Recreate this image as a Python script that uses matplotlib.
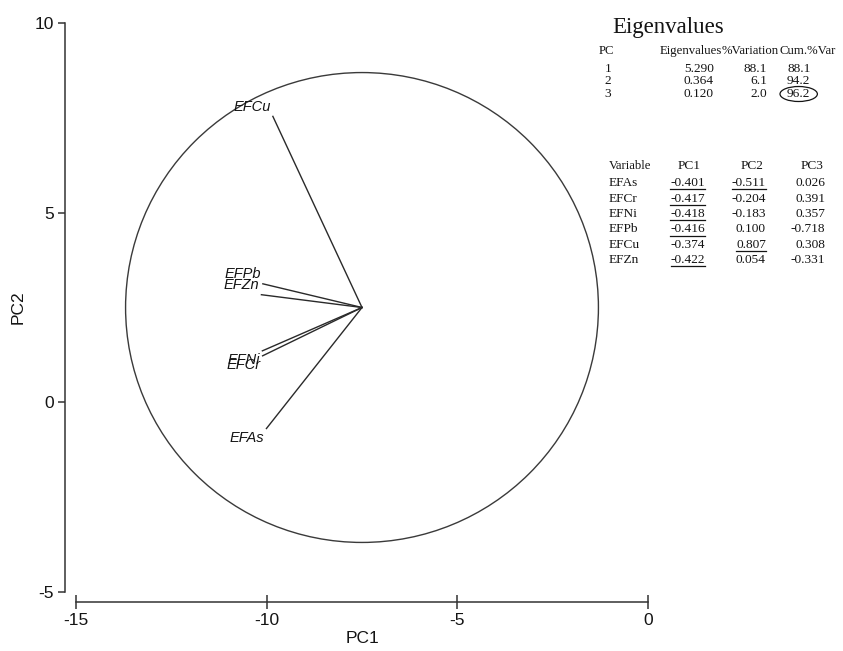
import matplotlib
matplotlib.use('Agg')
import matplotlib.pyplot as plt
from matplotlib.patches import Circle, Ellipse

plt.rcParams['axes.unicode_minus'] = False

# loadings per variable (PC1, PC2, PC3)
variables = ['EFAs', 'EFCr', 'EFNi', 'EFPb', 'EFCu', 'EFZn']
pc1 = [-0.401, -0.417, -0.418, -0.416, -0.374, -0.422]
pc2 = [-0.511, -0.204, -0.183, 0.100, 0.807, 0.054]
pc3 = [0.026, 0.391, 0.357, -0.718, 0.308, -0.331]

# which loadings are underlined in the table
underline_pc1 = ['EFAs', 'EFCr', 'EFNi', 'EFPb', 'EFZn']
underline_pc2 = ['EFAs', 'EFCu']

# eigen analysis
pcs = [1, 2, 3]
eigenvalues = [5.290, 0.364, 0.120]
pct_var = [88.1, 6.1, 2.0]
cum_var = [88.1, 94.2, 96.2]

# biplot origin and scale of loading vectors
origin = (-7.5, 2.5)
scale = 6.25
radius = 6.2

xticks = [-15, -10, -5, 0]
yticks = [-5, 0, 5, 10]

sans = ['Liberation Sans', 'DejaVu Sans']
serif = ['Liberation Serif', 'DejaVu Serif']
ink = '#141414'

fig = plt.figure(figsize=(8.43, 6.51), dpi=100)
fig.patch.set_facecolor('white')

W, H = 843, 651
ax = fig.add_axes([76 / W, 1 - 591.7 / H, (648 - 76) / W, (591.7 - 23.3) / H])
ax.set_xlim(-15, 0)
ax.set_ylim(-5, 10)
ax.patch.set_visible(False)

for s in ['top', 'right']:
    ax.spines[s].set_visible(False)
ax.spines['left'].set_position(('outward', 8))
ax.spines['bottom'].set_position(('outward', 7.6))
ax.spines['left'].set_bounds(-5, 10)
ax.spines['bottom'].set_bounds(-15, 0)
for s in ['left', 'bottom']:
    ax.spines[s].set_color('#333333')
    ax.spines[s].set_linewidth(1.1)

ax.set_xticks(xticks)
ax.set_yticks(yticks)
ax.tick_params(axis='y', direction='out', length=5, width=1.1, color='#333333', pad=3)
ax.tick_params(axis='x', direction='inout', length=10, width=1.1, color='#333333', pad=3)
for lab in ax.get_xticklabels() + ax.get_yticklabels():
    lab.set_family(sans)
    lab.set_fontsize(12.5)
    lab.set_color(ink)

ax.set_xlabel('PC1', family=sans, fontsize=12.5, color=ink, labelpad=2)
ax.set_ylabel('PC2', family=sans, fontsize=12.5, color=ink, labelpad=6)

ax.add_patch(Circle(origin, radius, fill=False, edgecolor='#3a3a3a', linewidth=1.0))

for name, a, b in zip(variables, pc1, pc2):
    ex = origin[0] + a * scale
    ey = origin[1] + b * scale
    ax.plot([origin[0], ex], [origin[1], ey], color='#2a2a2a', linewidth=1.0)
    dy = 7 if b > 0 else -6.5
    ax.annotate(name, (ex, ey), xytext=(-1.5, dy), textcoords='offset points',
                ha='right', va='center', family=sans, style='italic',
                fontsize=10.5, color=ink)

# overlay in pixel coordinates for the text tables
ov = fig.add_axes([0, 0, 1, 1])
ov.set_xlim(0, W)
ov.set_ylim(H, 0)
ov.axis('off')
ov.patch.set_visible(False)

tkw = dict(family=serif, color=ink, va='baseline')
ov.text(612, 32.5, 'Eigenvalues', fontsize=16.5, ha='left', **tkw)

hs = 9.2
vs = 9.6
ov.text(599, 54, 'PC', fontsize=hs, ha='left', **tkw)
ov.text(660, 54, 'Eigenvalues', fontsize=hs, ha='left', **tkw)
ov.text(722, 54, '%Variation', fontsize=hs, ha='left', **tkw)
ov.text(780, 54, 'Cum.%Var', fontsize=hs, ha='left', **tkw)

row_y = [72, 84.5, 97]
cum_texts = []
for y, p, ev, pv, cv in zip(row_y, pcs, eigenvalues, pct_var, cum_var):
    ov.text(608, y, str(p), fontsize=vs, ha='center', **tkw)
    ov.text(714, y, '%.3f' % ev, fontsize=vs, ha='right', **tkw)
    ov.text(767, y, '%.1f' % pv, fontsize=vs, ha='right', **tkw)
    cum_texts.append(ov.text(787, y, '%.1f' % cv, fontsize=vs, ha='left', **tkw))

ov.text(609, 169, 'Variable', fontsize=hs, ha='left', **tkw)
ov.text(689, 169, 'PC1', fontsize=vs, ha='center', **tkw)
ov.text(752, 169, 'PC2', fontsize=vs, ha='center', **tkw)
ov.text(812, 169, 'PC3', fontsize=vs, ha='center', **tkw)

load_y = [186, 201.7, 217, 232.5, 248, 263.3]
underlined = []
for y, name, a, b, c in zip(load_y, variables, pc1, pc2, pc3):
    ov.text(609, y, name, fontsize=vs, ha='left', **tkw)
    t1 = ov.text(705, y, '%.3f' % a, fontsize=vs, ha='right', **tkw)
    t2 = ov.text(766, y, '%.3f' % b, fontsize=vs, ha='right', **tkw)
    ov.text(825, y, '%.3f' % c, fontsize=vs, ha='right', **tkw)
    if name in underline_pc1:
        underlined.append((t1, y))
    if name in underline_pc2:
        underlined.append((t2, y))

fig.canvas.draw()
renderer = fig.canvas.get_renderer()
for t, y in underlined:
    bb = t.get_window_extent(renderer)
    ov.plot([bb.x0, bb.x1], [y + 3, y + 3], color=ink, linewidth=0.9)

# ellipse around the last cumulative value
bb = cum_texts[-1].get_window_extent(renderer)
cx = (bb.x0 + bb.x1) / 2
cy = H - (bb.y0 + bb.y1) / 2
ov.add_patch(Ellipse((cx, cy), bb.width + 14, bb.height + 3, fill=False,
                     edgecolor=ink, linewidth=0.9))

fig.savefig('out.png', dpi=100, facecolor='white')
